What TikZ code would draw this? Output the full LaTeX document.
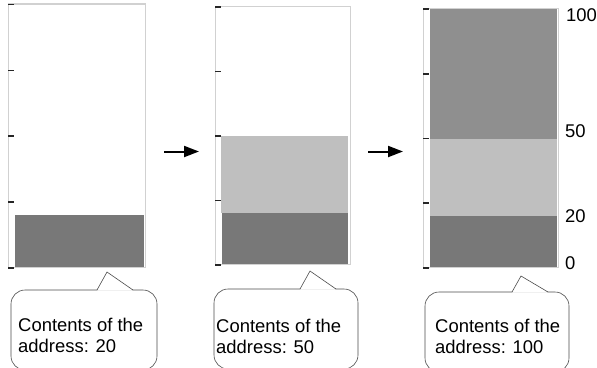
\documentclass[tikz,border=0pt]{standalone}
\usepackage{fontspec}
\setmainfont{Liberation Sans}
\usetikzlibrary{arrows.meta,positioning}

\begin{document}
\begin{tikzpicture}[x=1bp,y=-1bp,>={Triangle[length=15bp,width=11bp]},
  bar/.style={draw=black!18,line width=1.2bp,inner sep=0pt,anchor=south west},
  tick/.style={draw=black!85,line width=1.6bp},
  note/.style={draw=black!70,line width=0.6bp,rounded corners=14bp,fill=white,minimum height=80bp,inner sep=0pt},
  txt/.style={align=left,inner sep=0pt,anchor=north west,font=\fontsize{18.5}{21.5}\selectfont},
  num/.style={anchor=west,inner sep=0pt,font=\fontsize{18.5}{21}\selectfont}]
\useasboundingbox (0,0) rectangle (597,367);
\colorlet{dark}{black!53}\colorlet{light}{black!25}\colorlet{mid}{black!44}
% first state: 20
\begin{scope}[shift={(8,268)},y=2.635bp]
\fill[dark] (7,0) rectangle (136,20);
\node[bar,minimum width=137bp,minimum height=263.5bp] (p1) at (0,0) {};
\foreach \v in {0,25,...,100} \draw[tick] (0,\v) -- ++(6,0);
\end{scope}
% second state: 50
\begin{scope}[shift={(215,265)},y=2.58bp]
\fill[light] (6,20) rectangle (133,50);
\fill[dark] (7,0) rectangle (133,20);
\node[bar,minimum width=135bp,minimum height=258bp] (p2) at (0,0) {};
\foreach \v in {0,25,...,100} \draw[tick] (0,\v) -- ++(6,0);
\end{scope}
% third state: 100
\begin{scope}[shift={(423,268)},y=2.59bp]
\fill[mid] (7,50) rectangle (134,100);
\fill[light] (7,20) rectangle (134,50);
\fill[dark] (7,0) rectangle (134,20);
\node[bar,minimum width=135bp,minimum height=259bp] (p3) at (0,0) {};
\foreach \v in {0,25,...,100} \draw[tick] (0,\v) -- ++(6,0);
\node[num] (n100) at (143,97.5) {100};
\node[num] (n50) at (142,53) {50};
\node[num] (n20) at (142,20) {20};
\node[num] (n0) at (142,2) {0};
\end{scope}
% arrows
\coordinate (a1) at (164,151.5); \coordinate (b1) at (199,151.5);
\coordinate (a2) at (368,151.5); \coordinate (b2) at (403,151.5);
\draw[->,line width=2bp] (a1) -- (b1);
\draw[->,line width=2bp] (a2) -- (b2);
% callouts
\node[note,minimum width=146bp] (c1) at (84,330) {};
\node[note,minimum width=144bp] (c2) at (286,329) {};
\node[note,minimum width=144bp] (c3) at (497,332) {};
\filldraw[white] (97.5,290.5) -- (107,272) -- (132.5,290.5) -- cycle;
\filldraw[white] (300.5,289.5) -- (310,271) -- (335.5,289.5) -- cycle;
\filldraw[white] (512.5,292.5) -- (521,276) -- (547.5,292.5) -- cycle;
\draw[black!70,line width=0.6bp] (97,290) -- (107,272) -- (133,290);
\draw[black!70,line width=0.6bp] (300,289) -- (310,271) -- (336,289);
\draw[black!70,line width=0.6bp] (512,292) -- (521,276) -- (548,292);
\node[txt] (t1) at (18,317.5) {Contents of the\\address: 20};
\node[txt] (t2) at (216,318.5) {Contents of the\\address: 50};
\node[txt] (t3) at (435,318.5) {Contents of the\\address: 100};
\end{tikzpicture}
\end{document}
